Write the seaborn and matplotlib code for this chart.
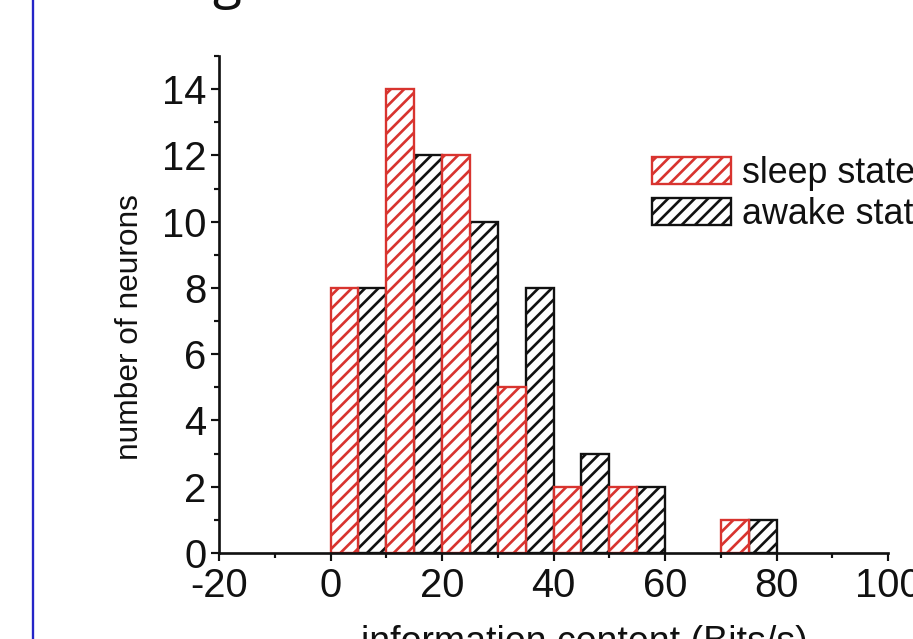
import numpy as np
import pandas as pd
import matplotlib
matplotlib.use("Agg")
import matplotlib.pyplot as plt
import matplotlib.patches as mpatches
from matplotlib.lines import Line2D
from matplotlib.ticker import MultipleLocator
import seaborn as sns

# Histogram of information content per neuron, 10 Bits/s bins
bin_left = [0, 10, 20, 30, 40, 50, 60, 70]
sleep_counts = [8, 14, 12, 5, 2, 2, 0, 1]
awake_counts = [8, 12, 10, 8, 3, 2, 0, 1]
states = ["sleep state", "awake state"]
x_ticks = [-20, 0, 20, 40, 60, 80, 100]
y_ticks = [0, 2, 4, 6, 8, 10, 12, 14]

RED = "#d8342f"
BLACK = "#111111"
palette = {"sleep state": RED, "awake state": BLACK}

df = pd.DataFrame({
    "info": [b + 5 for b in bin_left] * 2,
    "count": sleep_counts + awake_counts,
    "state": [states[0]] * len(bin_left) + [states[1]] * len(bin_left),
})

sns.set_style("ticks")
plt.rcParams["font.family"] = ["Liberation Sans", "DejaVu Sans"]
plt.rcParams["hatch.linewidth"] = 1.6
plt.rcParams["axes.unicode_minus"] = False
plt.rcParams["text.color"] = "#111111"
plt.rcParams["xtick.color"] = "#111111"
plt.rcParams["ytick.color"] = "#111111"
plt.rcParams["axes.labelcolor"] = "#111111"

DPI = 120
fig = plt.figure(figsize=(913 / DPI, 639 / DPI), dpi=DPI)
ax = fig.add_axes([219 / 913, 1 - 553 / 639, 669 / 913, 497 / 639])

sns.histplot(
    data=df, x="info", weights="count", hue="state", hue_order=states,
    binwidth=10, binrange=(0, 80), multiple="dodge", shrink=1.0,
    palette=palette, alpha=1.0, legend=False, ax=ax,
)

# hatched, unfilled bars outlined in the series colour
def to_hex(c):
    return matplotlib.colors.to_hex(c[:3])

for p in ax.patches:
    col = to_hex(p.get_facecolor())
    edge = RED if col == RED else BLACK
    p.set_facecolor("white")
    p.set_edgecolor(edge)
    p.set_linewidth(1.4)
    p.set_hatch("///")
    if p.get_height() == 0:
        p.set_visible(False)

ax.set_xlim(-20, 100)
ax.set_ylim(0, 15)
ax.set_xticks(x_ticks)
ax.set_yticks(y_ticks)
ax.xaxis.set_minor_locator(MultipleLocator(10))
ax.yaxis.set_minor_locator(MultipleLocator(1))
ax.tick_params(which="major", length=5, width=1.3, labelsize=24,
               direction="out")
ax.tick_params(axis="x", which="major", pad=3.5)
ax.tick_params(axis="y", which="major", pad=2.5)
ax.tick_params(which="minor", length=3, width=1.3, direction="out")
for s in ["top", "right"]:
    ax.spines[s].set_visible(False)
for s in ["left", "bottom"]:
    ax.spines[s].set_linewidth(1.6)
    ax.spines[s].set_color("#111111")

ax.set_xlabel("information content (Bits/s)", fontsize=22.5)
ax.xaxis.set_label_coords(0.546, -0.145)
ax.set_ylabel("number of neurons", fontsize=19)
ax.yaxis.set_label_coords(-0.11, 0.455)

handles = [
    mpatches.Patch(facecolor="white", edgecolor=palette[s], hatch="///",
                   linewidth=1.4, label=s)
    for s in states
]
ax.legend(handles=handles, loc="upper left",
          bbox_to_anchor=(652 / 913, 1 - 156 / 639),
          bbox_transform=fig.transFigure, frameon=False, borderpad=0,
          borderaxespad=0, fontsize=21.5, handlelength=2.2,
          handleheight=0.8, handletextpad=0.3, labelspacing=0.16)

# page frame line and the tail of the heading above the panel
fig.add_artist(Line2D([33 / 913, 33 / 913], [0, 1], transform=fig.transFigure,
                      color="#2424c8", linewidth=1.4))
fig.text(212 / 913, 1.005, "g", fontsize=32, family=["Open Sans", "DejaVu Sans"],
         va="baseline", ha="left", color="#111111")

fig.savefig("out.png", dpi=DPI)
